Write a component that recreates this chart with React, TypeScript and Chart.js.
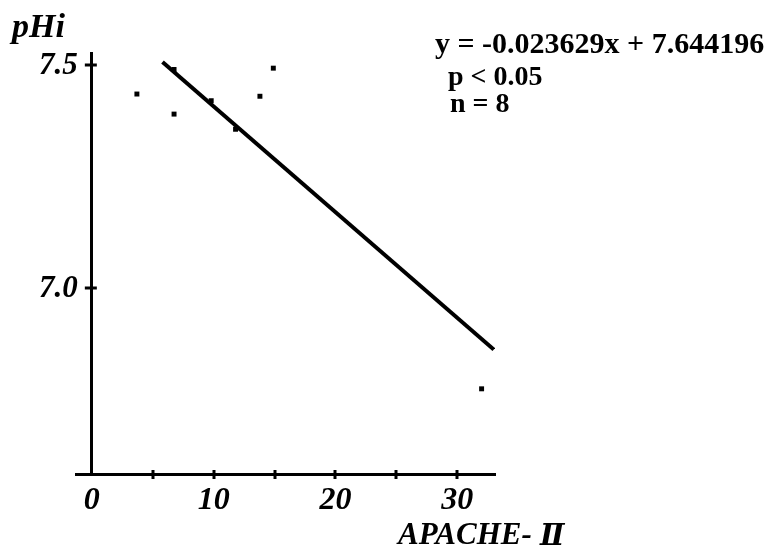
import React, { useEffect, useRef } from "react";
import { Chart, registerables } from "chart.js";

Chart.register(...registerables);

// APACHE-II score (x) vs pHi (y)
const apacheScores = [3.7, 6.75, 6.75, 9.8, 11.8, 13.8, 14.9, 32.0];
const phiValues = [7.435, 7.49, 7.39, 7.42, 7.356, 7.43, 7.493, 6.774];

// regression line end points
const fitX = [5.8, 33.0];
const fitY = [7.507, 6.862];

const xTickValues = [0, 5, 10, 15, 20, 25, 30];
const xLabelValues = [0, 10, 20, 30];
const yTickValues = [7.0, 7.5];
const yTickLabels = ["7.0", "7.5"];

const xRange = [-1.3, 33.1];
const yRange = [6.583, 7.527];

const yAxisTitle = "pHi";
const xAxisTitleMain = "APACHE- ";
const xAxisTitleNumeral = "\u2161";
const statLines = ["y = -0.023629x + 7.644196", "p < 0.05", "n = 8"];

const SERIF = "'Liberation Serif', 'Times New Roman', serif";
const NUMERAL_FONT = "'DejaVu Serif', 'Noto Sans CJK JP', serif";

export default function App() {
  const ref = useRef<HTMLCanvasElement | null>(null);

  useEffect(() => {
    const canvas = ref.current;
    if (!canvas) return;

    const decor = {
      id: "decor",
      afterDraw(chart: any) {
        const ctx = chart.ctx;
        const xs = chart.scales.x;
        const ys = chart.scales.y;
        const x0 = xs.getPixelForValue(0);
        const yBottom = chart.chartArea.bottom;
        ctx.save();
        ctx.strokeStyle = "#000";
        ctx.lineWidth = 3;
        // x tick crosses
        xTickValues.forEach((v) => {
          if (v === 0) return;
          const px = Math.round(xs.getPixelForValue(v));
          ctx.beginPath();
          ctx.moveTo(px, yBottom - 4);
          ctx.lineTo(px, yBottom + 5);
          ctx.stroke();
        });
        // y tick crosses and labels
        ctx.fillStyle = "#000";
        ctx.font = `italic bold 31px ${SERIF}`;
        ctx.textAlign = "right";
        ctx.textBaseline = "alphabetic";
        yTickValues.forEach((v, i) => {
          const py = Math.round(ys.getPixelForValue(v));
          ctx.beginPath();
          ctx.moveTo(x0 - 7, py);
          ctx.lineTo(x0 + 5, py);
          ctx.stroke();
          ctx.fillText(yTickLabels[i], x0 - 14, py + 9);
        });
        // titles and statistics
        ctx.textAlign = "left";
        ctx.font = `italic bold 34px ${SERIF}`;
        ctx.fillText(yAxisTitle, 12, 37);
        ctx.font = `italic bold 31px ${SERIF}`;
        ctx.fillText(xAxisTitleMain, 398, 544);
        ctx.font = `italic bold 29px ${NUMERAL_FONT}`;
        ctx.fillText(xAxisTitleNumeral, 540, 545);
        ctx.font = `bold 30px ${SERIF}`;
        ctx.fillText(statLines[0], 435, 53);
        ctx.font = `bold 28px ${SERIF}`;
        ctx.fillText(statLines[1], 448, 85);
        ctx.fillText(statLines[2], 450, 112);
        ctx.restore();
      },
    };

    const chart = new Chart(canvas, {
      type: "scatter",
      data: {
        datasets: [
          {
            label: "fit",
            type: "line",
            data: fitX.map((x, i) => ({ x, y: fitY[i] })),
            borderColor: "#000",
            borderWidth: 4,
            pointRadius: 0,
            fill: false,
            tension: 0,
          } as any,
          {
            label: "pHi",
            data: apacheScores.map((x, i) => ({ x, y: phiValues[i] })),
            pointStyle: "rect",
            pointRadius: 3.5,
            pointBorderWidth: 0,
            backgroundColor: "#000",
            borderColor: "#000",
          },
        ],
      },
      options: {
        responsive: false,
        animation: false,
        events: [],
        layout: { padding: { left: 76, top: 53, right: 276, bottom: 0 } },
        plugins: {
          legend: { display: false },
          tooltip: { enabled: false },
          title: { display: false },
        },
        scales: {
          x: {
            type: "linear",
            position: "bottom",
            min: xRange[0],
            max: xRange[1],
            afterFit: (s: any) => {
              s.height = 74;
            },
            afterBuildTicks: (s: any) => {
              s.ticks = xTickValues.map((value) => ({ value }));
            },
            grid: { display: false, drawTicks: true, tickLength: 0 },
            border: { display: true, color: "#000", width: 3 },
            ticks: {
              autoSkip: false,
              maxRotation: 0,
              padding: 8,
              color: "#000",
              font: { family: SERIF, size: 32, style: "italic", weight: "bold" },
              callback: (v: any) => (xLabelValues.includes(Number(v)) ? String(v) : ""),
            },
          },
          y: {
            type: "linear",
            position: { x: 0 } as any,
            min: yRange[0],
            max: yRange[1],
            afterBuildTicks: (s: any) => {
              s.ticks = yTickValues.map((value) => ({ value }));
            },
            grid: { display: false, drawTicks: false },
            border: { display: true, color: "#000", width: 3 },
            ticks: { display: false },
          },
        },
      },
      plugins: [decor],
    });

    return () => chart.destroy();
  }, []);

  return (
    <div style={{ position: "absolute", left: 0, top: 0, width: 771, height: 548, background: "#fff" }}>
      <canvas ref={ref} width={771} height={548} style={{ display: "block" }} />
    </div>
  );
}
